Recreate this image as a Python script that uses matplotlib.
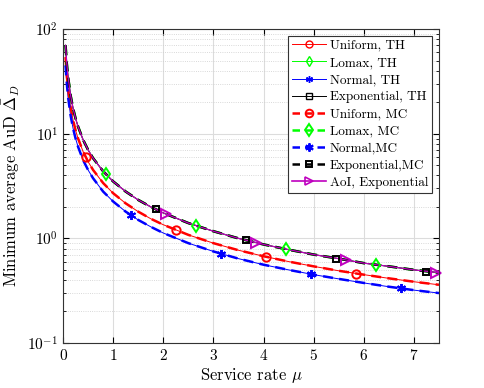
"""Minimum average AuD vs service rate, TH vs MC curves"""
import matplotlib
matplotlib.use("Agg")
import matplotlib.pyplot as plt
from matplotlib.lines import Line2D
from matplotlib.ticker import LogLocator, NullFormatter

plt.rcParams['font.family'] = 'serif'
plt.rcParams['font.serif'] = ['cmr10', 'DejaVu Serif']
plt.rcParams['mathtext.fontset'] = 'cm'
plt.rcParams['axes.unicode_minus'] = False
plt.rcParams['axes.formatter.use_mathtext'] = True

# curve samples
mu = [0.05, 0.075, 0.1, 0.15, 0.2, 0.25, 0.3, 0.4, 0.5, 0.6, 0.8, 1.0, 1.25,
      1.5, 1.75, 2.0, 2.5, 3.0, 3.5, 4.0, 4.5, 5.0, 5.5, 6.0, 6.5, 7.0, 7.5]
exp_vals = [70, 46.7, 35, 23.3, 17.5, 14, 11.7, 8.75, 7.0, 5.83, 4.38, 3.5, 2.8,
            2.33, 2.0, 1.75, 1.4, 1.17, 1.0, 0.875, 0.78, 0.70, 0.64, 0.58, 0.54, 0.50, 0.47]
lomax_vals = [70, 46.7, 35, 23.3, 17.5, 14, 11.7, 8.75, 7.0, 5.83, 4.38, 3.5, 2.8,
              2.33, 2.0, 1.75, 1.4, 1.17, 1.0, 0.875, 0.78, 0.70, 0.64, 0.58, 0.54, 0.50, 0.47]
uni_vals = [54, 36, 27, 18, 13.5, 10.8, 9.0, 6.75, 5.4, 4.5, 3.38, 2.7, 2.16,
            1.8, 1.54, 1.35, 1.08, 0.90, 0.77, 0.675, 0.60, 0.54, 0.49, 0.45, 0.415, 0.385, 0.36]
norm_vals = [45, 30, 22.5, 15, 11.25, 9.0, 7.5, 5.6, 4.5, 3.75, 2.8, 2.25, 1.8,
             1.5, 1.29, 1.125, 0.9, 0.75, 0.64, 0.56, 0.50, 0.45, 0.41, 0.375, 0.345, 0.32, 0.30]
aoi_vals = [70, 46.7, 35, 23.3, 17.5, 14, 11.7, 8.75, 7.0, 5.83, 4.38, 3.5, 2.8,
            2.33, 2.0, 1.75, 1.4, 1.17, 1.0, 0.875, 0.78, 0.70, 0.64, 0.58, 0.54, 0.50, 0.47]

# marker points
uni_mk_x = [0.45, 2.25, 4.05, 5.85]
uni_mk_y = [6.0, 1.2, 0.67, 0.46]
lomax_mk_x = [0.85, 2.65, 4.45, 6.25]
lomax_mk_y = [4.1, 1.32, 0.79, 0.56]
norm_mk_x = [1.35, 3.15, 4.95, 6.75]
norm_mk_y = [1.67, 0.71, 0.455, 0.333]
exp_mk_x = [1.85, 3.65, 5.45, 7.25]
exp_mk_y = [1.89, 0.96, 0.64, 0.48]
aoi_mk_x = [2.05, 3.85, 5.65, 7.45]
aoi_mk_y = [1.71, 0.91, 0.62, 0.47]

GREEN = (0, 1, 0)
AST = (6, 2, 0)

fig = plt.figure(figsize=(4.85, 3.88), dpi=100)
ax = fig.add_axes([0.13, 0.116, 0.775, 0.809])

# theory lines
ax.plot(mu, uni_vals, color='r', lw=0.7)
ax.plot(mu, lomax_vals, color=GREEN, lw=0.7)
ax.plot(mu, norm_vals, color='b', lw=0.7)
ax.plot(mu, exp_vals, color='k', lw=0.7)
# Monte Carlo lines
ax.plot(mu, uni_vals, color='r', lw=1.8, ls=(0, (4, 2.5)))
ax.plot(mu, lomax_vals, color=GREEN, lw=1.8, ls=(0, (4, 2.5)))
ax.plot(mu, norm_vals, color='b', lw=1.8, ls=(0, (4, 2.5)))
ax.plot(mu, exp_vals, color='k', lw=1.8, ls=(0, (4, 2.5)))
ax.plot(mu, aoi_vals, color='m', lw=0.9)

mk = dict(ls='none', mfc='none', mew=1.4)
ax.plot(uni_mk_x, uni_mk_y, marker='o', mec='r', ms=6, **mk)
ax.plot(lomax_mk_x, lomax_mk_y, marker='d', mec=GREEN, ms=6.5, **mk)
ax.plot(norm_mk_x, norm_mk_y, marker=AST, mec='b', ms=6.5, **mk)
ax.plot(exp_mk_x, exp_mk_y, marker='s', mec='k', ms=5, **mk)
ax.plot(aoi_mk_x, aoi_mk_y, marker='>', mec='m', ms=6.5, clip_on=False, **mk)

ax.set_yscale('log')
ax.set_xlim(0, 7.5)
ax.set_ylim(0.1, 100)
ax.set_xticks(range(8))
ax.yaxis.set_minor_locator(LogLocator(base=10, subs=range(2, 10)))
ax.yaxis.set_minor_formatter(NullFormatter())
ax.tick_params(which='both', direction='in', top=True, right=True, labelsize=11)
ax.tick_params(which='major', length=4)
ax.tick_params(which='minor', length=2)
ax.grid(True, which='major', color='#dcdcdc', lw=0.8)
ax.grid(True, which='minor', axis='y', color='#cccccc', lw=0.6, ls=':')
for s in ax.spines.values():
    s.set_color('#333333')

ax.set_xlabel(r'Service rate $\mu$', fontsize=12, labelpad=2)
ax.set_ylabel(r'Minimum average AuD $\bar{\Delta}_D$', fontsize=12)

handles = [
    Line2D([], [], color='r', lw=0.7, marker='o', mfc='none', ms=5),
    Line2D([], [], color=GREEN, lw=0.7, marker='d', mfc='none', ms=5),
    Line2D([], [], color='b', lw=0.7, marker=AST, ms=5),
    Line2D([], [], color='k', lw=0.7, marker='s', mfc='none', ms=4),
    Line2D([], [], color='r', lw=1.8, ls=(0, (3, 2)), marker='o', mfc='none', mew=1.4, ms=5.5),
    Line2D([], [], color=GREEN, lw=1.8, ls=(0, (3, 2)), marker='d', mfc='none', mew=1.4, ms=6),
    Line2D([], [], color='b', lw=1.8, ls=(0, (3, 2)), marker=AST, mew=1.4, ms=6),
    Line2D([], [], color='k', lw=1.8, ls=(0, (3, 2)), marker='s', mfc='none', mew=1.4, ms=4.5),
    Line2D([], [], color='m', lw=1.2, marker='>', mfc='none', mew=1.2, ms=6),
]
labels = ['Uniform, TH', 'Lomax, TH', 'Normal, TH', 'Exponential, TH',
          'Uniform, MC', 'Lomax, MC', 'Normal,MC', 'Exponential,MC',
          'AoI, Exponential']
leg = ax.legend(handles, labels, loc='upper right', fontsize=9.5, fancybox=False,
                framealpha=1, edgecolor='#333333', borderaxespad=0.5,
                handlelength=2.6, labelspacing=0.37, borderpad=0.3, handletextpad=0.3)
leg.get_frame().set_linewidth(0.8)

fig.savefig('out.png', dpi=100)
